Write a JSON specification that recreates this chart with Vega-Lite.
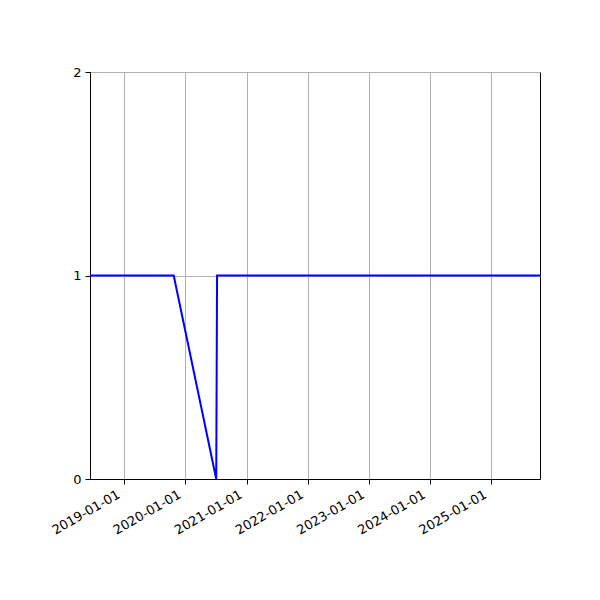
{
  "$schema": "https://vega.github.io/schema/vega-lite/v6.json",
  "width": 450,
  "height": 407,
  "autosize": {"type": "none"},
  "padding": {"left": 90, "top": 72, "right": 60, "bottom": 121},
  "background": "white",
  "data": {
    "values": [
      {"date": "2018-06-10", "value": 1},
      {"date": "2019-10-23", "value": 1},
      {"date": "2020-07-03", "value": 0},
      {"date": "2020-07-08", "value": 1},
      {"date": "2025-10-19", "value": 1}
    ]
  },
  "mark": {"type": "line", "color": "#0000ff", "strokeWidth": 2, "clip": true},
  "encoding": {
    "x": {
      "field": "date",
      "type": "temporal",
      "scale": {"type": "utc", "nice": false},
      "axis": {
        "title": null,
        "format": "%Y-%m-%d",
        "values": [
          {"year": 2019, "month": 1, "date": 1, "utc": true},
          {"year": 2020, "month": 1, "date": 1, "utc": true},
          {"year": 2021, "month": 1, "date": 1, "utc": true},
          {"year": 2022, "month": 1, "date": 1, "utc": true},
          {"year": 2023, "month": 1, "date": 1, "utc": true},
          {"year": 2024, "month": 1, "date": 1, "utc": true},
          {"year": 2025, "month": 1, "date": 1, "utc": true}
        ],
        "labelAngle": -30,
        "labelAlign": "right",
        "labelBaseline": "top",
        "labelPadding": 4,
        "labelOffset": -9
      }
    },
    "y": {
      "field": "value",
      "type": "quantitative",
      "scale": {"domain": [0, 2], "nice": false},
      "axis": {"title": null, "values": [0, 1, 2], "format": ".0f", "labelPadding": 4}
    }
  },
  "config": {
    "font": "DejaVu Sans",
    "view": {"stroke": "black", "strokeWidth": 1},
    "axis": {
      "domainColor": "black",
      "domainWidth": 1,
      "tickColor": "black",
      "tickSize": 5,
      "tickWidth": 1,
      "labelColor": "black",
      "labelFont": "DejaVu Sans",
      "labelFontSize": 13,
      "grid": true,
      "gridColor": "#b0b0b0",
      "gridWidth": 1,
      "labelFlush": false,
      "labelOverlap": false
    }
  }
}
